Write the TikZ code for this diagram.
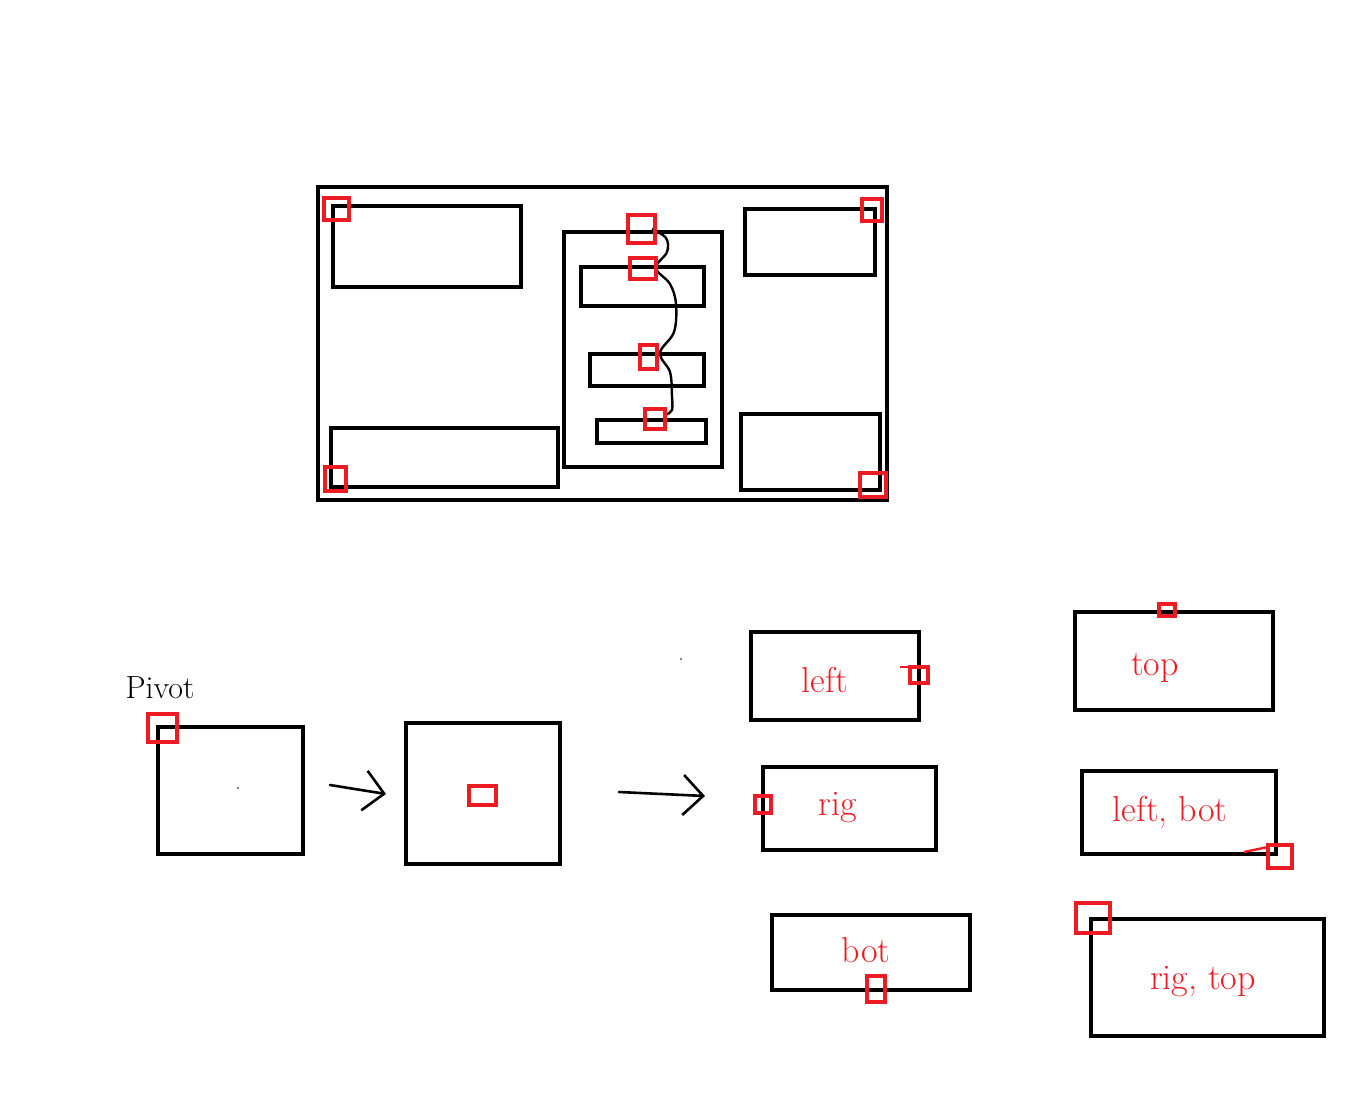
\documentclass[tikz,border=0pt]{standalone}
\usepackage{xcolor}
\usepackage{tikz}
\usetikzlibrary{arrows.meta}
\definecolor{paintred}{RGB}{237,28,36}

\begin{document}
\begin{tikzpicture}[x=0.5pt, y=-0.5pt,
    blackbox/.style={draw=black, line width=2pt},
    redbox/.style={draw=paintred, line width=2pt},
    hand/.style={text=paintred, font=\fontsize{18}{20}\selectfont},
    handarrow/.style={line width=1.3pt, line cap=round, -{Straight Barb[length=10pt, width=20pt, line width=1.3pt]}}]
    \useasboundingbox (0,0) rectangle (1362,1110);

    % layout with pivots
    \draw[blackbox] (318,187) rectangle (887,500);
    \draw[blackbox] (333,206) rectangle (521,287);
    \draw[blackbox] (331,428) rectangle (558,487);
    \draw[blackbox] (564,232) rectangle (722,467);
    \draw[blackbox] (581,267) rectangle (704,306);
    \draw[blackbox] (590,354) rectangle (704,386);
    \draw[blackbox] (597,420) rectangle (706,443);
    \draw[blackbox] (745,209) rectangle (875,275);
    \draw[blackbox] (741,414) rectangle (880,490);

    \draw[line width=1.2pt] plot[smooth, tension=0.6] coordinates {(652,229) (666,238) (667,252) (656,268) (670,284) (676,304) (674,332) (660,353) (670,372) (672,396) (672,410) (667,414)};

    \draw[redbox] (324,198) rectangle (349,220);
    \draw[redbox] (628,215) rectangle (655,243);
    \draw[redbox] (630,258) rectangle (656,279);
    \draw[redbox] (640,345) rectangle (657,369);
    \draw[redbox] (645,409) rectangle (665,429);
    \draw[redbox] (862,199) rectangle (882,221);
    \draw[redbox] (325,467) rectangle (346,491);
    \draw[redbox] (860,473) rectangle (886,497);

    % pivot to centre
    \node (pivot) at (160,688) {\fontsize{16}{18}\selectfont Pivot};
    \draw[blackbox] (158,727) rectangle (303,854);
    \draw[redbox] (148,714) rectangle (177,742);
    \fill (238,788) circle (0.4pt);

    \coordinate (a1) at (330,785);
    \coordinate (a2) at (386,794);
    \draw[handarrow] (a1) -- (a2);

    \draw[blackbox] (406,723) rectangle (560,864);
    \draw[redbox] (469,786) rectangle (496,805);

    \coordinate (b1) at (619,792);
    \coordinate (b2) at (705,796);
    \draw[handarrow] (b1) -- (b2);
    \fill (681,659) circle (0.4pt);

    % anchor cases
    \draw[blackbox] (751,632) rectangle (919,720);
    \draw[redbox] (910,667) rectangle (928,683);
    \draw[paintred, line width=1.2pt] (900,667) -- (910,667);
    \node[hand] (left) at (825,680) {left};

    \draw[blackbox] (1075,612) rectangle (1273,710);
    \draw[redbox] (1159,604) rectangle (1175,616);
    \node[hand] (top) at (1155,668) {top};

    \draw[blackbox] (763,767) rectangle (936,850);
    \draw[redbox] (755,796) rectangle (771,813);
    \node[hand] (rig) at (838,808) {rig};

    \draw[blackbox] (1082,771) rectangle (1276,854);
    \draw[redbox] (1268,845) rectangle (1292,868);
    \draw[paintred, line width=1.2pt] (1244,852) -- (1268,847);
    \node[hand] (leftbot) at (1170,812) {left, bot};

    \draw[blackbox] (772,915) rectangle (970,990);
    \draw[redbox] (867,976) rectangle (885,1002);
    \node[hand] (bot) at (866,950) {bot};

    \draw[blackbox] (1091,919) rectangle (1324,1036);
    \draw[redbox] (1076,903) rectangle (1110,933);
    \node[hand] (rigtop) at (1203,982) {rig, top};
\end{tikzpicture}
\end{document}
